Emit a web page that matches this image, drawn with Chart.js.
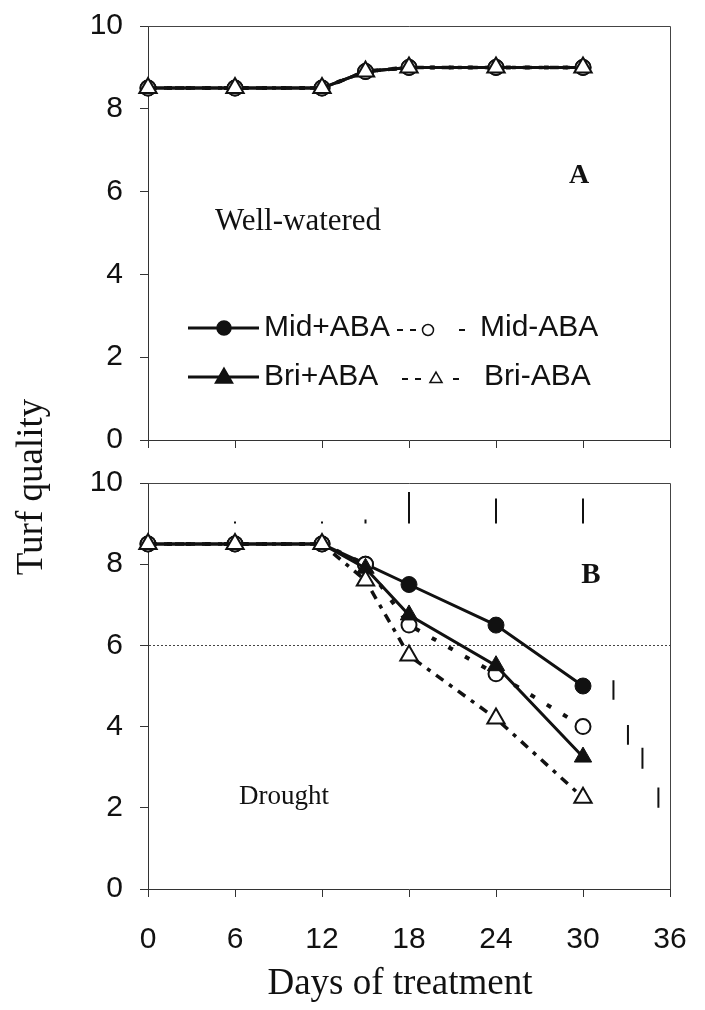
<!DOCTYPE html>
<html>
<head>
<meta charset="utf-8">
<title>Turf quality</title>
<script src="https://cdn.jsdelivr.net/npm/chart.js@4.4.1/dist/chart.umd.min.js"></script>
<style>
  html, body { margin: 0; padding: 0; background: #fff; overflow: hidden; }
  #wrap { position: relative; width: 705px; height: 1010px; }
  #wrap canvas { position: absolute; left: 0; top: 0; }
</style>
</head>
<body>
<div id="wrap">
  <canvas id="drought" width="705" height="1010"></canvas>
  <canvas id="watered" width="705" height="470"></canvas>
</div>
<script>
// sampling days and axis ticks
const days = [0, 6, 12, 15, 18, 24, 30];
const xTicks = [0, 6, 12, 18, 24, 30, 36];
const yTicks = [0, 2, 4, 6, 8, 10];

// A: well-watered
const wwMidPlus  = [8.5, 8.5, 8.5, 8.9, 9.0, 9.0, 9.0];
const wwMidMinus = [8.5, 8.5, 8.5, 8.9, 9.0, 9.0, 9.0];
const wwBriPlus  = [8.5, 8.5, 8.5, 8.9, 9.0, 9.0, 9.0];
const wwBriMinus = [8.5, 8.5, 8.5, 8.9, 9.0, 9.0, 9.0];

// B: drought
const drMidPlus  = [8.5, 8.5, 8.5, 8.0, 7.5, 6.5, 5.0];
const drMidMinus = [8.5, 8.5, 8.5, 8.0, 6.5, 5.3, 4.0];
const drBriPlus  = [8.5, 8.5, 8.5, 7.9, 6.75, 5.5, 3.25];
const drBriMinus = [8.5, 8.5, 8.5, 7.6, 5.75, 4.2, 2.25];

// LSD bars (top row: per day, right side: per treatment at day 30)
const lsdDays = [6, 12, 15, 18, 24, 30];
const lsdLow  = [9.0, 9.0, 9.0, 9.0, 9.0, 9.0];
const lsdHigh = [9.05, 9.05, 9.1, 9.78, 9.62, 9.62];
const lsdEndX    = [32.1, 33.1, 34.1, 35.2];
const lsdEndLow  = [4.66, 3.55, 2.96, 2.0];
const lsdEndHigh = [5.14, 4.04, 3.48, 2.5];

const serif = '"Liberation Serif", "Times New Roman", serif';
const sans = '"Liberation Sans", Arial, sans-serif';
const ink = '#111';

const styles = {
  'Mid+ABA': { borderWidth: 3, borderDash: [], pointStyle: 'circle', pointRadius: 8, pointBackgroundColor: ink, pointBorderWidth: 1 },
  'Bri+ABA': { borderWidth: 3, borderDash: [], pointStyle: 'triangle', pointRadius: 10, pointBackgroundColor: ink, pointBorderWidth: 1 },
  'Mid-ABA': { borderWidth: 4, borderDash: [5, 14], pointStyle: 'circle', pointRadius: 7.5, pointBackgroundColor: '#fff', pointBorderWidth: 2 },
  'Bri-ABA': { borderWidth: 3.5, borderDash: [9, 7, 4, 7], pointStyle: 'triangle', pointRadius: 10, pointBackgroundColor: '#fff', pointBorderWidth: 2 }
};

function series(label, values, order) {
  return Object.assign({
    label,
    data: days.map((d, i) => ({ x: d, y: values[i] })),
    borderColor: ink,
    pointBorderColor: ink,
    pointHoverRadius: 8,
    tension: 0,
    clip: false,
    order
  }, styles[label]);
}

function lsdSegments(xs, lows, highs) {
  const pts = [];
  xs.forEach((x, i) => {
    pts.push({ x, y: lows[i] }, { x, y: highs[i] }, { x, y: null });
  });
  return pts;
}

function lsdSet(xs, lows, highs) {
  return {
    label: 'LSD',
    data: lsdSegments(xs, lows, highs),
    borderColor: ink,
    borderWidth: 2,
    pointRadius: 0,
    spanGaps: false,
    clip: false,
    order: 9
  };
}

// lineHeight on the tick fonts keeps the label overhang inside the layout padding
function scales(opts) {
  return {
    x: {
      type: 'linear', min: 0, max: 36,
      afterBuildTicks: s => { s.ticks = xTicks.map(v => ({ value: v })); },
      afterFit: s => { s.height = opts.xHeight; },
      ticks: { display: opts.xLabels, font: { family: sans, size: 30, lineHeight: 1.6667 }, color: ink, padding: 18, maxRotation: 0 },
      grid: { drawOnChartArea: false, tickLength: 8, tickColor: '#333', tickWidth: 1 },
      border: { color: '#333', width: 1 }
    },
    y: {
      type: 'linear', min: 0, max: 10,
      afterBuildTicks: s => { s.ticks = yTicks.map(v => ({ value: v })); },
      afterFit: s => { s.width = 148; },
      ticks: { font: { family: sans, size: 30, lineHeight: 0.5 }, color: ink, padding: 17 },
      grid: {
        drawOnChartArea: opts.refLine,
        color: c => (c.tick && c.tick.value === 6) ? '#444' : 'transparent',
        tickColor: '#333', tickLength: 8, tickWidth: 1, tickBorderDash: []
      },
      border: { color: '#333', width: 1, dash: [2, 2] }
    }
  };
}

// top and right edges of the plot box
const frame = {
  id: 'frame',
  beforeDatasetsDraw(chart) {
    const { ctx, chartArea: a } = chart;
    ctx.save();
    ctx.strokeStyle = '#444';
    ctx.lineWidth = 1;
    ctx.beginPath();
    ctx.moveTo(a.left, a.top + 0.5);
    ctx.lineTo(a.right + 0.5, a.top + 0.5);
    ctx.lineTo(a.right + 0.5, a.bottom);
    ctx.stroke();
    ctx.restore();
  }
};

function marker(ctx, style, fill, r, x, y) {
  ctx.save();
  ctx.fillStyle = fill;
  ctx.strokeStyle = ink;
  ctx.lineWidth = 1.5;
  ctx.beginPath();
  if (style === 'circle') {
    ctx.arc(x, y, r, 0, Math.PI * 2);
  } else {
    ctx.moveTo(x, y - r);
    ctx.lineTo(x + r * 0.866, y + r * 0.5);
    ctx.lineTo(x - r * 0.866, y + r * 0.5);
    ctx.closePath();
  }
  ctx.fill();
  ctx.stroke();
  ctx.restore();
}

function text(ctx, str, x, y, font, align) {
  ctx.save();
  ctx.font = font;
  ctx.fillStyle = ink;
  ctx.textAlign = align || 'center';
  ctx.textBaseline = 'middle';
  ctx.fillText(str, x, y);
  ctx.restore();
}

function dashes(ctx, xs, y) {
  ctx.save();
  ctx.strokeStyle = ink;
  ctx.lineWidth = 2;
  xs.forEach(x => {
    ctx.beginPath();
    ctx.moveTo(x - 3, y);
    ctx.lineTo(x + 3, y);
    ctx.stroke();
  });
  ctx.restore();
}

// legend rows: [solid series, dashed series]
const legendRows = [['Mid+ABA', 'Mid-ABA'], ['Bri+ABA', 'Bri-ABA']];
const legendDashX = [[400, 413, 462], [405, 418, 456]];
const legendMarkX = [428, 436];
const legendTextX = [480, 484];

const wateredText = {
  id: 'wateredText',
  afterDraw(chart) {
    const ctx = chart.ctx;
    text(ctx, 'A', 579, 176, 'bold 28px ' + serif);
    text(ctx, 'Well-watered', 298, 222, '31px ' + serif);

    legendRows.forEach((row, i) => {
      const y = 328 + i * 49;
      const solid = styles[row[0]];
      ctx.save();
      ctx.strokeStyle = ink;
      ctx.lineWidth = 3;
      ctx.beginPath();
      ctx.moveTo(188, y);
      ctx.lineTo(259, y);
      ctx.stroke();
      ctx.restore();
      marker(ctx, solid.pointStyle, ink, solid.pointStyle === 'circle' ? 7 : 10, 224, y + (i ? 1 : 0));
      text(ctx, row[0], 264, y, '30px ' + sans, 'left');

      const dashed = styles[row[1]];
      dashes(ctx, legendDashX[i], y + 2);
      marker(ctx, dashed.pointStyle, '#fff', dashed.pointStyle === 'circle' ? 5.5 : 7, legendMarkX[i], y + 2);
      text(ctx, row[1], legendTextX[i], y, '30px ' + sans, 'left');
    });
  }
};

const droughtText = {
  id: 'droughtText',
  afterDraw(chart) {
    const ctx = chart.ctx;
    text(ctx, 'B', 591, 576, 'bold 29px ' + serif);
    text(ctx, 'Drought', 284, 797, '27px ' + serif);
    text(ctx, 'Days of treatment', 400, 984, '37px ' + serif);
    ctx.save();
    ctx.translate(32, 487);
    ctx.rotate(-Math.PI / 2);
    text(ctx, 'Turf quality', 0, 0, '37px ' + serif);
    ctx.restore();
  }
};

const common = {
  responsive: false,
  animation: false,
  devicePixelRatio: 1,
  plugins: { legend: { display: false }, tooltip: { enabled: false } }
};

new Chart(document.getElementById('watered'), {
  type: 'line',
  data: {
    datasets: [
      series('Mid+ABA', wwMidPlus, 3),
      series('Bri+ABA', wwBriPlus, 2),
      series('Mid-ABA', wwMidMinus, 1),
      series('Bri-ABA', wwBriMinus, 0)
    ]
  },
  options: Object.assign({}, common, {
    layout: { padding: { top: 26, right: 35, bottom: 0, left: 0 } },
    scales: scales({ xHeight: 30, xLabels: false, refLine: false })
  }),
  plugins: [frame, wateredText]
});

new Chart(document.getElementById('drought'), {
  type: 'line',
  data: {
    datasets: [
      series('Mid+ABA', drMidPlus, 3),
      series('Mid-ABA', drMidMinus, 2),
      series('Bri+ABA', drBriPlus, 1),
      series('Bri-ABA', drBriMinus, 0),
      lsdSet(lsdDays, lsdLow, lsdHigh),
      lsdSet(lsdEndX, lsdEndLow, lsdEndHigh)
    ]
  },
  options: Object.assign({}, common, {
    layout: { padding: { top: 483, right: 35, bottom: 0, left: 0 } },
    scales: scales({ xHeight: 121, xLabels: true, refLine: true })
  }),
  plugins: [frame, droughtText]
});
</script>
</body>
</html>
